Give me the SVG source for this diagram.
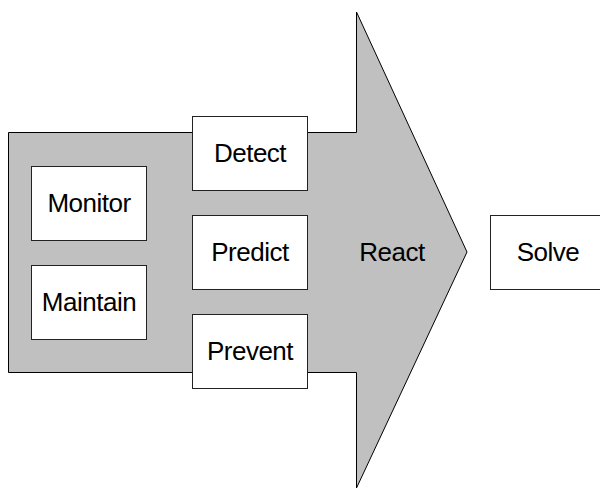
<svg xmlns="http://www.w3.org/2000/svg" width="600" height="490" viewBox="0 0 600 490">
<style>
.box{fill:#fff;stroke:#222;stroke-width:1}
.lbl{font-family:"Liberation Sans",Arial,sans-serif;font-size:26px;letter-spacing:-0.5px;fill:#000;text-anchor:middle}
</style>
<rect width="600" height="490" fill="#fff"/>
<g id="react">
<polygon points="8.5,132.5 356.5,132.5 356.5,12 467,252 356.5,488 356.5,372.5 8.5,372.5" fill="#c0c0c0" stroke="#000" stroke-width="1"/>
<text class="lbl" x="392" y="261">React</text>
</g>
<g id="connectors"></g>
<g id="monitor"><rect class="box" x="31.5" y="166.5" width="115" height="74"/><text class="lbl" x="89" y="212">Monitor</text></g>
<g id="maintain"><rect class="box" x="31.5" y="265.5" width="115" height="74"/><text class="lbl" x="89" y="311">Maintain</text></g>
<g id="detect"><rect class="box" x="192.5" y="116.5" width="115" height="74"/><text class="lbl" x="250" y="162">Detect</text></g>
<g id="predict"><rect class="box" x="192.5" y="215.5" width="115" height="74"/><text class="lbl" x="250" y="261">Predict</text></g>
<g id="prevent"><rect class="box" x="192.5" y="314.5" width="115" height="74"/><text class="lbl" x="250" y="360">Prevent</text></g>
<g id="solve"><rect class="box" x="490.5" y="215.5" width="115" height="74"/><text class="lbl" x="548" y="261">Solve</text></g>
</svg>
